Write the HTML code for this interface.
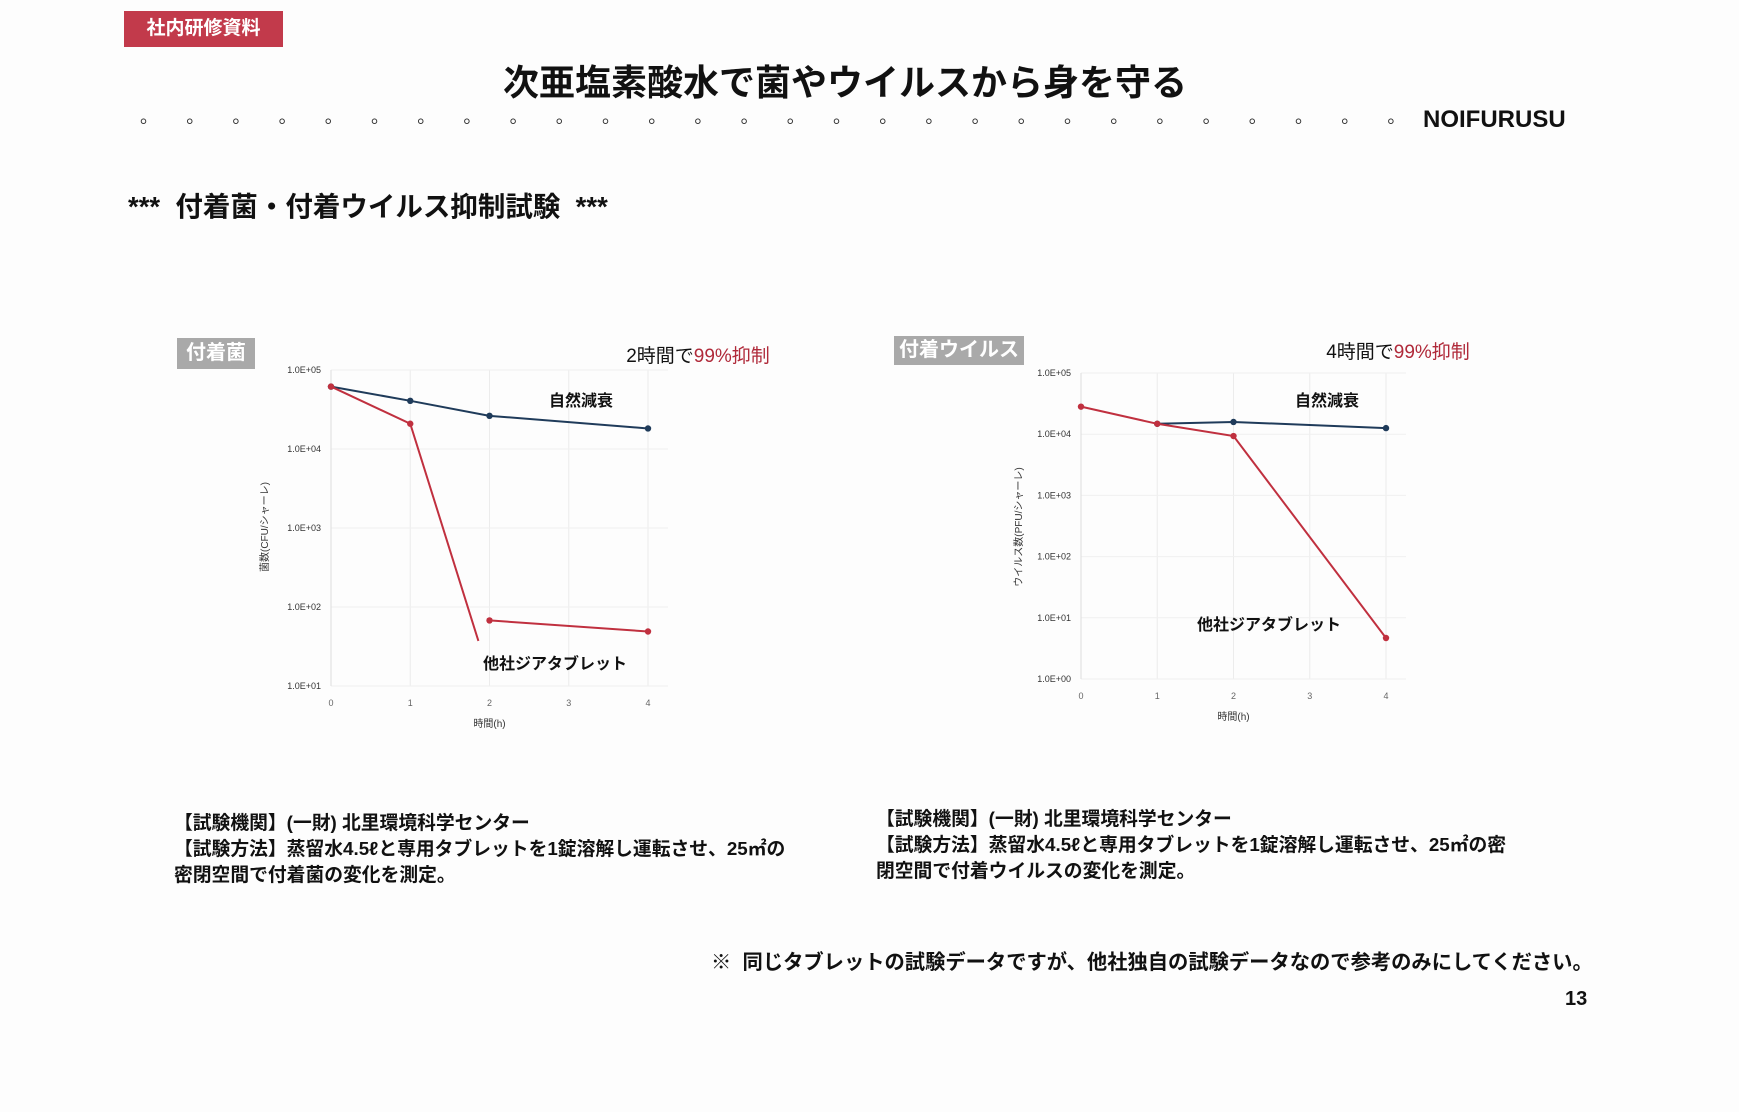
<!DOCTYPE html>
<html><head><meta charset="utf-8">
<style>
body{margin:0;width:1739px;height:1112px;background:#fdfdfd;position:relative;overflow:hidden;font-family:"Liberation Sans","Noto Sans CJK JP",sans-serif;color:#111}
.a{position:absolute;white-space:nowrap}
.b{font-weight:bold}
</style></head><body>
<div class="a b" style="left:124px;top:11px;width:159px;height:36px;background:#c23a4b;color:#fff;font-size:19px;line-height:36px;text-align:center">社内研修資料</div>
<div class="a b" style="left:0;width:1690px;text-align:center;top:54px;font-size:36px">次亜塩素酸水で菌やウイルスから身を守る</div>
<div class="a" style="left:140px;top:103px;font-size:18px;letter-spacing:37.2px;color:#333">。。。。。。。。。。。。。。。。。。。。。。。。。。。。</div>
<div class="a b" style="left:1423px;top:106px;font-size:24px">NOIFURUSU</div>
<div class="a b" style="left:128px;top:184px;font-size:27.5px">***&nbsp; 付着菌・付着ウイルス抑制試験&nbsp; ***</div>

<div class="a b" style="left:177px;top:338px;width:78px;height:31px;background:#a9a9a9;color:#fff;font-size:20px;line-height:31px;text-align:center">付着菌</div>
<div class="a b" style="left:894px;top:336px;width:130px;height:29px;background:#a9a9a9;color:#fff;font-size:20px;line-height:29px;text-align:center">付着ウイルス</div>

<svg class="a" style="left:0;top:0" width="1739" height="1112" id="charts"></svg>

<div class="a b" style="left:174px;top:810px;font-size:18.8px;line-height:26px">【試験機関】(一財) 北里環境科学センター<br>【試験方法】蒸留水4.5ℓと専用タブレットを1錠溶解し運転させ、25㎡の<br>密閉空間で付着菌の変化を測定。</div>
<div class="a b" style="left:876px;top:806px;font-size:18.8px;line-height:26px">【試験機関】(一財) 北里環境科学センター<br>【試験方法】蒸留水4.5ℓと専用タブレットを1錠溶解し運転させ、25㎡の密<br>閉空間で付着ウイルスの変化を測定。</div>
<div class="a b" style="left:711px;top:945px;font-size:20.3px">※&nbsp; 同じタブレットの試験データですが、他社独自の試験データなので参考のみにしてください。</div>
<div class="a b" style="left:1565px;top:988px;font-size:20px">13</div>

<script>
// Left chart (bacteria) data — log10 values
const leftTimes = [0, 1, 2, 4];
const leftNatural = [4.79, 4.61, 4.42, 4.26];
const leftTabletA = [4.79, 4.32];
const leftDropEnd = [1.86, 1.57];
const leftTabletBTimes = [2, 4];
const leftTabletB = [1.83, 1.69];
const leftYTicks = ["1.0E+01","1.0E+02","1.0E+03","1.0E+04","1.0E+05"];
const leftXTicks = ["0","1","2","3","4"];
// Right chart (virus) data — log10 values
const rightTimes = [0, 1, 2, 4];
const rightNaturalTimes = [1, 2, 4];
const rightNatural = [4.17, 4.20, 4.10];
const rightTablet = [4.45, 4.17, 3.97, 0.67];
const rightYTicks = ["1.0E+00","1.0E+01","1.0E+02","1.0E+03","1.0E+04","1.0E+05"];
const rightXTicks = ["0","1","2","3","4"];

const NS = "http://www.w3.org/2000/svg";
const svg = document.getElementById('charts');
function el(tag, attrs, parent, text){
  const e = document.createElementNS(NS, tag);
  for (const k in attrs) e.setAttribute(k, attrs[k]);
  if (text !== undefined) e.textContent = text;
  (parent || svg).appendChild(e);
  return e;
}
function chart(cfg){
  const g = el('g', {});
  
  
  const sx = t => cfg.x0 + (t / 4) * (cfg.x1 - cfg.x0);
  const sy = v => cfg.y1 - (v - cfg.vmin) / (cfg.vmax - cfg.vmin) * (cfg.y1 - cfg.y0);
  cfg.xt.forEach((lab, i) => {
    const l = el('line', {x1:sx(i), x2:sx(i), y1:cfg.y0, y2:cfg.y1, stroke:'#ececec', 'stroke-width':1}, g);
    
    
    const t = el('text', {x:sx(i), y:cfg.xty, 'font-size':9, fill:'#666', 'text-anchor':'middle'}, g, lab);
    
    
  });
  cfg.yt.forEach((lab, i) => {
    const v = cfg.vmin + i;
    const l = el('line', {x1:cfg.x0, x2:cfg.x1 + 20, y1:sy(v), y2:sy(v), stroke:'#f0f0f0', 'stroke-width':1}, g);
    
    
    const t = el('text', {x:cfg.x0 - 10, y:sy(v) + 3, 'font-size':9, fill:'#333', 'text-anchor':'end'}, g, lab);
    
    
  });
  const ax = el('line', {x1:cfg.x0, x2:cfg.x0, y1:cfg.y0, y2:cfg.y1, stroke:'#ddd'}, g);
  
  
  const xt = el('text', {x:(cfg.x0 + cfg.x1)/2, y:cfg.xtitle, 'font-size':10, fill:'#333', 'text-anchor':'middle'}, g, '時間(h)');
  
  
  const yx = cfg.ytx, yy = cfg.yty;
  const yt = el('text', {x:yx, y:yy, 'font-size':10, fill:'#333', 'text-anchor':'middle', transform:`rotate(-90 ${yx} ${yy})`}, g, cfg.ytitle);
  
  
  cfg.series.forEach(s => {
    const pts = s.t.map((t, i) => [sx(t), sy(s.v[i])]);
    const ext = s.extra ? [[sx(s.extra[0]), sy(s.extra[1])]] : [];
    const all = pts.concat(ext);
    const p = el('polyline', {points: all.map(q => q.join(',')).join(' '), fill:'none', stroke:s.color, 'stroke-width':2}, g);
    
    
    pts.forEach(q => {
      const c = el('circle', {cx:q[0], cy:q[1], r:3.2, fill:s.color}, g);
      
      
    });
  });
  cfg.labels.forEach(L => {
    const t = el('text', {x:L[0], y:L[1], 'font-size':16, 'font-weight':'bold', fill:'#111', 'text-anchor':'middle'}, g, L[2]);
    
    
  });
  const h = el('text', {x:cfg.head[0], y:cfg.head[1], 'font-size':19, fill:'#111', 'text-anchor':'middle'}, g);
  
  
  el('tspan', {}, h, cfg.head[2]);
  el('tspan', {fill:'#b02a3a'}, h, '99%抑制');
}
chart({name:'bacteria-chart', x0:331, x1:648, y0:370, y1:686, vmin:1, vmax:5, xt:leftXTicks, yt:leftYTicks,
  xty:706, xtitle:727, ytx:268, yty:527, ytitle:'菌数(CFU/シャーレ)', head:[698, 362, '2時間で'],
  labels:[[581, 406, '自然減衰'], [555, 669, '他社ジアタブレット']],
  series:[
    {name:'natural-decay', t:leftTimes, v:leftNatural, color:'#1f3b5a'},
    {name:'tablet', t:[0,1], v:leftTabletA, color:'#c0303f', extra:leftDropEnd},
    {name:'tablet-tail', t:leftTabletBTimes, v:leftTabletB, color:'#c0303f'}
  ]});
chart({name:'virus-chart', x0:1081, x1:1386, y0:373, y1:679, vmin:0, vmax:5, xt:rightXTicks, yt:rightYTicks,
  xty:699, xtitle:720, ytx:1022, yty:527, ytitle:'ウイルス数(PFU/シャーレ)', head:[1398, 358, '4時間で'],
  labels:[[1327, 406, '自然減衰'], [1269, 630, '他社ジアタブレット']],
  series:[
    {name:'natural-decay', t:rightNaturalTimes, v:rightNatural, color:'#1f3b5a'},
    {name:'tablet', t:rightTimes, v:rightTablet, color:'#c0303f'}
  ]});
</script>
</body></html>
